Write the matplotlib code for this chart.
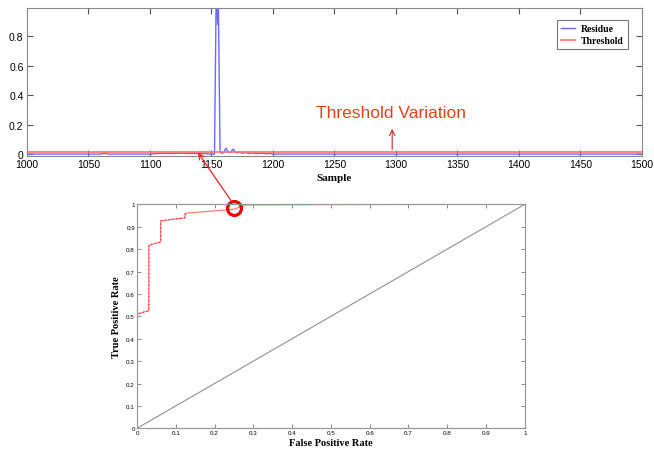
import matplotlib
matplotlib.use("Agg")
import matplotlib.pyplot as plt
from matplotlib.patches import ConnectionPatch

# ---- data ----
sample = [1000, 1040, 1060, 1063, 1066, 1100, 1105, 1110, 1120, 1125, 1130, 1140, 1146, 1150,
          1152.5, 1154, 1155, 1155.6, 1157, 1158, 1160, 1161, 1162, 1163, 1165, 1166, 1167,
          1168, 1169, 1171, 1173, 1175, 1178, 1180, 1183, 1186, 1190, 1195, 1198, 1200, 1210,
          1250, 1300, 1400, 1500]
residue = [0.0, 0.0, 0.0, 0.006, 0.0, 0.0, 0.003, 0.005, 0.004, 0.006, 0.005, 0.004, 0.002, 0.0,
           0.0, 1.2, 0.88, 1.05, 0.02, 0.005, 0.01, 0.03, 0.04, 0.02, 0.01, 0.012, 0.03,
           0.033, 0.015, 0.008, 0.012, 0.006, 0.01, 0.004, 0.008, 0.003, 0.006, 0.002, 0.005, 0.0, 0.0,
           0.0, 0.0, 0.0, 0.0]
threshold_x = [1000, 1500]
threshold_y = [0.012, 0.012]

fpr = [0, 0, 0.0305, 0.0305, 0.061, 0.061, 0.124, 0.124, 0.25, 0.28, 0.5, 0.85, 0.97, 1.0]
tpr = [0, 0.51, 0.525, 0.817, 0.832, 0.926, 0.94, 0.96, 0.978, 0.997, 0.999, 1.0, 1.0, 1.0]
chance = [0, 1]

top_xticks = [1000, 1050, 1100, 1150, 1200, 1250, 1300, 1350, 1400, 1450, 1500]
top_yticks = [0, 0.2, 0.4, 0.6, 0.8]
roc_ticks = [0, 0.1, 0.2, 0.3, 0.4, 0.5, 0.6, 0.7, 0.8, 0.9, 1]

serif = ['Liberation Serif', 'DejaVu Serif']
sans = ['Liberation Sans', 'DejaVu Sans']

fig = plt.figure(figsize=(6.54, 4.52), dpi=100)
fig.patch.set_facecolor('white')

# ---- top axes ----
ax1 = fig.add_axes([0.0413, 0.653, 0.940, 0.327])
ax1.plot(sample, residue, color='#6a6aff', lw=1.0, label='Residue')
ax1.plot(threshold_x, threshold_y, color='#ff7070', lw=1.2, label='Threshold')
ax1.set_xlim(1000, 1500)
ax1.set_ylim(-0.012, 0.99)
ax1.set_xticks(top_xticks)
ax1.set_yticks(top_yticks)
ax1.set_yticklabels(['0', '0.2', '0.4', '0.6', '0.8'])
ax1.tick_params(direction='in', top=True, right=True, length=4, width=0.8,
                labelsize=7.5, color='#555555', pad=2.5)
for lab in ax1.get_xticklabels() + ax1.get_yticklabels():
    lab.set_family(sans)
for sp in ax1.spines.values():
    sp.set_color('#888888')
    sp.set_linewidth(0.8)
ax1.set_xlabel('Sample', family=serif, fontweight='bold', fontsize=8, labelpad=3)
leg = ax1.legend(loc='upper right', bbox_to_anchor=(0.985, 0.95), prop={'family': serif, 'weight': 'bold', 'size': 7},
                 handlelength=1.5, fancybox=False, edgecolor='#555555', borderpad=0.4,
                 labelspacing=0.3, handletextpad=0.6)
leg.get_frame().set_linewidth(0.8)

ax1.text(1235, 0.28, 'Threshold Variation', color='#d9461c', fontsize=12.5,
         family=sans, va='center', ha='left')
ax1.annotate('', xy=(1297, 0.19), xytext=(1297, 0.012),
             arrowprops=dict(arrowstyle='->', color='#c03030', lw=0.8))

# ---- ROC axes ----
ax2 = fig.add_axes([0.2095, 0.0502, 0.593, 0.4956])
ax2.plot(chance, chance, color='#909090', lw=0.8)
ax2.plot(fpr, tpr, color='#ff7a7a', lw=0.9)
ax2.plot(fpr[:8], tpr[:8], color='#cc2222', lw=1.0, ls=(0, (0.6, 2.2)))
ax2.plot([0.25], [0.983], marker='o', ms=10, mfc='none', mec='#ee0000', mew=2.3, clip_on=False)
ax2.set_xlim(0, 1)
ax2.set_ylim(0, 1)
ax2.set_xticks(roc_ticks)
ax2.set_yticks(roc_ticks)
ax2.set_xticklabels(['0', '0.1', '0.2', '0.3', '0.4', '0.5', '0.6', '0.7', '0.8', '0.9', '1'])
ax2.set_yticklabels(['0', '0.1', '0.2', '0.3', '0.4', '0.5', '0.6', '0.7', '0.8', '0.9', '1'])
ax2.tick_params(direction='in', top=True, right=True, length=3, width=0.6,
                labelsize=4.5, color='#777777', pad=1.5)
for lab in ax2.get_xticklabels() + ax2.get_yticklabels():
    lab.set_family(sans)
for sp in ax2.spines.values():
    sp.set_color('#999999')
    sp.set_linewidth(0.9)
ax2.set_xlabel('False Positive Rate', family=serif, fontweight='bold', fontsize=7.5, labelpad=2)
ax2.set_ylabel('True Positive Rate', family=serif, fontweight='bold', fontsize=7.5, labelpad=4)

con = ConnectionPatch(xyA=(0.245, 1.01), coordsA=ax2.transData,
                      xyB=(1139, 0.01), coordsB=ax1.transData,
                      arrowstyle='->', color='#ee2222', lw=0.9, mutation_scale=10)
fig.add_artist(con)

fig.savefig('out.png', dpi=100, facecolor='white')
